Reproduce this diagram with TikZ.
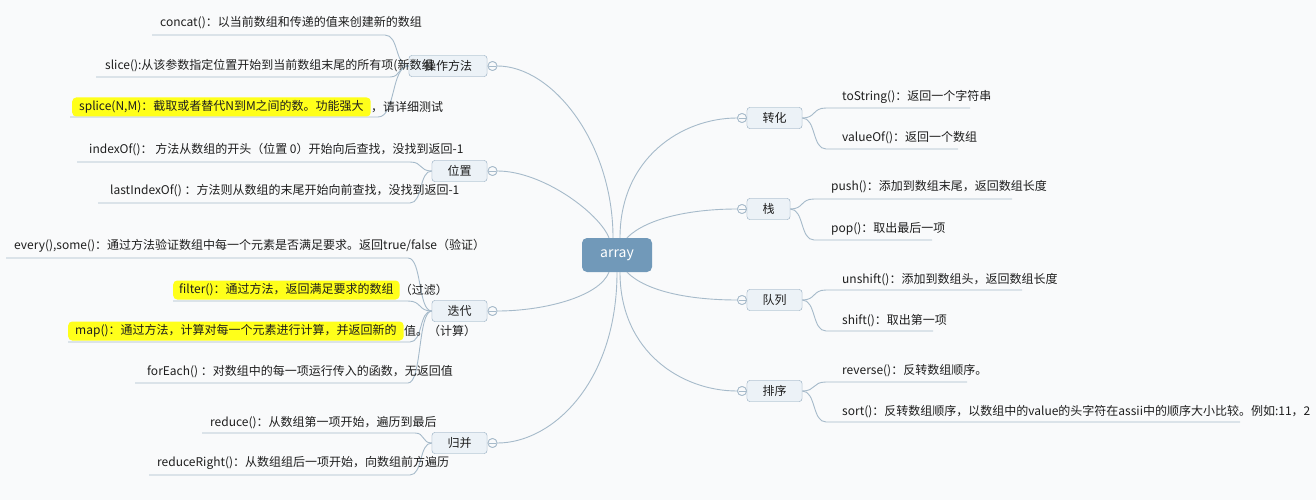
\documentclass[tikz,border=0pt]{standalone}
\usepackage{fontspec}
\setmainfont{Noto Sans CJK SC}
\definecolor{bg}{HTML}{F9FAFB}
\definecolor{linec}{HTML}{A6BACA}
\definecolor{boxb}{HTML}{A3B8C9}
\definecolor{boxf}{HTML}{ECF2F7}
\definecolor{rootf}{HTML}{7199B9}
\definecolor{hly}{HTML}{FFFF1A}
\definecolor{txt}{HTML}{1E1E1E}
\begin{document}
\begin{tikzpicture}[x=1pt,y=-1pt,
  conn/.style={draw=linec, line width=0.9pt},
  topic/.style={draw=boxb, fill=boxf, rounded corners=3pt, minimum height=21pt, inner sep=0pt, text=txt, font=\fontsize{12}{14}\selectfont},
  rootnode/.style={fill=rootf, rounded corners=5pt, minimum width=70pt, minimum height=34pt, inner sep=0pt, text=white, font=\fontsize{14}{16}\selectfont},
  coll/.style={circle, draw=linec, fill=bg, line width=0.8pt, minimum size=9pt, inner sep=0pt,
    path picture={\draw[linec, line width=0.8pt] ([xshift=-3.5pt]path picture bounding box.center) -- ([xshift=3.5pt]path picture bounding box.center);}},
  leaf/.style={anchor=west, inner sep=0pt, text=txt, font=\fontsize{12}{14}\selectfont},
  hlnode/.style={anchor=west, fill=hly, rounded corners=4pt, inner xsep=7pt, inner ysep=0pt, minimum height=19pt, text=txt, font=\fontsize{12}{14}\selectfont}
]
\fill[bg] (0,0) rectangle (1316,500);
\useasboundingbox (0,0) rectangle (1316,500);

% ---------- root and topics ----------
\node[rootnode] (root) at (617,255) {array};

\node[topic, minimum width=78pt] (ops) at (448,66) {操作方法};
\node[topic, minimum width=55pt] (pos) at (459.5,171) {位置};
\node[topic, minimum width=55pt] (itr) at (459.5,311) {迭代};
\node[topic, minimum width=55pt] (mrg) at (459.5,443) {归并};

\node[topic, minimum width=55pt] (cvt) at (774.5,118) {转化};
\node[topic, minimum width=43pt] (stk) at (768.5,209) {栈};
\node[topic, minimum width=55pt] (que) at (774.5,300) {队列};
\node[topic, minimum width=55pt] (srt) at (774.5,391) {排序};

\node[coll] (cOps) at (492.5,66) {};
\node[coll] (cPos) at (492.5,171) {};
\node[coll] (cItr) at (492.5,311) {};
\node[coll] (cMrg) at (492.5,443) {};
\node[coll] (cCvt) at (742,118) {};
\node[coll] (cStk) at (742,209) {};
\node[coll] (cQue) at (742,300) {};
\node[coll] (cSrt) at (742,391) {};

% ---------- main connectors ----------
\begin{scope}[on background layer/.try]
\end{scope}
\draw[conn] ([xshift=-4pt]root.north) .. controls +(0,-95) and +(60,0) .. (cOps);
\draw[conn] ([xshift=-8pt]root.north) .. controls +(-10,-25) and +(50,0) .. (cPos);
\draw[conn] ([xshift=-8pt]root.south) .. controls +(-10,25) and +(50,0) .. (cItr);
\draw[conn] ([xshift=0pt]root.south) .. controls +(0,110) and +(60,0) .. (cMrg);
\draw[conn] ([xshift=3pt]root.north) .. controls +(0,-80) and +(-60,0) .. (cCvt);
\draw[conn] ([xshift=10pt]root.north) .. controls +(20,-20) and +(-50,0) .. (cStk);
\draw[conn] ([xshift=10pt]root.south) .. controls +(20,20) and +(-50,0) .. (cQue);
\draw[conn] ([xshift=3pt]root.south) .. controls +(0,80) and +(-60,0) .. (cSrt);

% redraw circles and topics above connectors
\node[coll] at (cOps) {};
\node[coll] at (cPos) {};
\node[coll] at (cItr) {};
\node[coll] at (cMrg) {};
\node[coll] at (cCvt) {};
\node[coll] at (cStk) {};
\node[coll] at (cQue) {};
\node[coll] at (cSrt) {};

% ---------- left leaf underlines ----------
\coordinate (l1a) at (152,35);  \coordinate (l1b) at (385,35);
\coordinate (l2a) at (96,77);   \coordinate (l2b) at (390,77);
\coordinate (l3a) at (70,117);  \coordinate (l3b) at (378,117);
\coordinate (l4a) at (77,162);  \coordinate (l4b) at (410,162);
\coordinate (l5a) at (98,203);  \coordinate (l5b) at (410,203);
\coordinate (l6a) at (6,258);   \coordinate (l6b) at (408,258);
\coordinate (l7a) at (173,301); \coordinate (l7b) at (408,301);
\coordinate (l8a) at (68,342);  \coordinate (l8b) at (410,342);
\coordinate (l9a) at (135,383); \coordinate (l9b) at (408,383);
\coordinate (l10a) at (202,433); \coordinate (l10b) at (415,433);
\coordinate (l11a) at (149,475); \coordinate (l11b) at (410,475);

\draw[conn] (l1a) -- (l1b) .. controls +(14,0) and +(-14,0) .. (ops.west);
\draw[conn] (l2a) -- (l2b) .. controls +(11,0) and +(-11,0) .. (ops.west);
\draw[conn] (l3a) -- (l3b) .. controls +(18,0) and +(-18,0) .. (ops.west);
\draw[conn] (l4a) -- (l4b) .. controls +(13,0) and +(-13,0) .. (pos.west);
\draw[conn] (l5a) -- (l5b) .. controls +(13,0) and +(-13,0) .. (pos.west);
\draw[conn] (l6a) -- (l6b) .. controls +(14,0) and +(-14,0) .. (itr.west);
\draw[conn] (l7a) -- (l7b) .. controls +(14,0) and +(-14,0) .. (itr.west);
\draw[conn] (l8a) -- (l8b) .. controls +(13,0) and +(-13,0) .. (itr.west);
\draw[conn] (l9a) -- (l9b) .. controls +(14,0) and +(-14,0) .. (itr.west);
\draw[conn] (l10a) -- (l10b) .. controls +(10,0) and +(-10,0) .. (mrg.west);
\draw[conn] (l11a) -- (l11b) .. controls +(13,0) and +(-13,0) .. (mrg.west);

% ---------- right leaf underlines ----------
\coordinate (r1a) at (826,108); \coordinate (r1b) at (970,108);
\coordinate (r2a) at (826,149); \coordinate (r2b) at (958,149);
\coordinate (r3a) at (814,199); \coordinate (r3b) at (1012,199);
\coordinate (r4a) at (814,240); \coordinate (r4b) at (932,240);
\coordinate (r5a) at (826,290); \coordinate (r5b) at (1022,290);
\coordinate (r6a) at (826,331); \coordinate (r6b) at (933,331);
\coordinate (r7a) at (826,382); \coordinate (r7b) at (967,382);
\coordinate (r8a) at (826,422); \coordinate (r8b) at (1240,422);

\draw[conn] (cvt.east) .. controls +(14,0) and +(-14,0) .. (r1a) -- (r1b);
\draw[conn] (cvt.east) .. controls +(14,0) and +(-14,0) .. (r2a) -- (r2b);
\draw[conn] (stk.east) .. controls +(14,0) and +(-14,0) .. (r3a) -- (r3b);
\draw[conn] (stk.east) .. controls +(14,0) and +(-14,0) .. (r4a) -- (r4b);
\draw[conn] (que.east) .. controls +(14,0) and +(-14,0) .. (r5a) -- (r5b);
\draw[conn] (que.east) .. controls +(14,0) and +(-14,0) .. (r6a) -- (r6b);
\draw[conn] (srt.east) .. controls +(14,0) and +(-14,0) .. (r7a) -- (r7b);
\draw[conn] (srt.east) .. controls +(14,0) and +(-14,0) .. (r8a) -- (r8b);

% redraw topic boxes on top of the leaf connectors
\node[topic, minimum width=78pt] at (ops) {操作方法};
\node[topic, minimum width=55pt] at (pos) {位置};
\node[topic, minimum width=55pt] at (itr) {迭代};
\node[topic, minimum width=55pt] at (mrg) {归并};
\node[topic, minimum width=55pt] at (cvt) {转化};
\node[topic, minimum width=43pt] at (stk) {栈};
\node[topic, minimum width=55pt] at (que) {队列};
\node[topic, minimum width=55pt] at (srt) {排序};

% ---------- left leaf texts ----------
\node[leaf] (t1) at (160,23) {concat()：以当前数组和传递的值来创建新的数组};
\node[leaf] (t2) at (105,66) {slice():从该参数指定位置开始到当前数组末尾的所有项(新数组};
\node[hlnode] (t3) at (72,107) {splice(N,M)：截取或者替代N到M之间的数。功能强大};
\node[leaf] (t3b) at (t3.east) {，请详细测试};
\node[leaf] (t4) at (89,150) {indexOf()： 方法从数组的开头（位置 0）开始向后查找，没找到返回-1};
\node[leaf] (t5) at (110,191) {lastIndexOf() ：方法则从数组的末尾开始向前查找，没找到返回-1};
\node[leaf] (t6) at (14,246) {every(),some()：通过方法验证数组中每一个元素是否满足要求。返回true/false（验证）};
\node[hlnode, inner xsep=6pt] (t7) at (173,290) {filter()：通过方法，返回满足要求的数组};
\node[leaf] (t7b) at (t7.east) {（过滤）};
\node[hlnode] (t8) at (68,331) {map()：通过方法，计算对每一个元素进行计算，并返回新的};
\node[leaf] (t8b) at (t8.east) {值。（计算）};
\node[leaf] (t9) at (147,372) {forEach() ：对数组中的每一项运行传入的函数，无返回值};
\node[leaf] (t10) at (210,423) {reduce()：从数组第一项开始，遍历到最后};
\node[leaf] (t11) at (157,463) {reduceRight()：从数组组后一项开始，向数组前方遍历};

% ---------- right leaf texts ----------
\node[leaf] (u1) at (842,97) {toString()：返回一个字符串};
\node[leaf] (u2) at (842,138) {valueOf()：返回一个数组};
\node[leaf] (u3) at (831,187) {push()：添加到数组末尾，返回数组长度};
\node[leaf] (u4) at (831,229) {pop()：取出最后一项};
\node[leaf] (u5) at (842,280) {unshift()：添加到数组头，返回数组长度};
\node[leaf] (u6) at (842,321) {shift()：取出第一项};
\node[leaf] (u7) at (842,371) {reverse()：反转数组顺序。};
\node[leaf] (u8) at (842,412) {sort()：反转数组顺序，以数组中的value的头字符在assii中的顺序大小比较。例如:11，2};
\end{tikzpicture}
\end{document}
